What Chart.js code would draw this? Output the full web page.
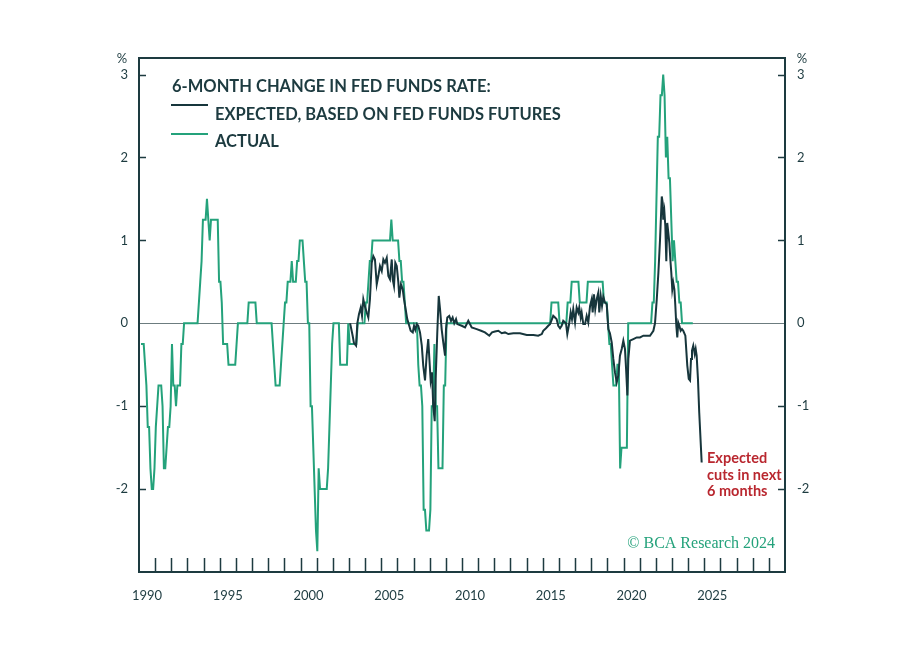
<!DOCTYPE html>
<html>
<head>
<meta charset="utf-8">
<script src="https://cdn.jsdelivr.net/npm/chart.js@4.4.1/dist/chart.umd.min.js"></script>
<style>
  html, body { margin: 0; padding: 0; background: #fff; }
  canvas { display: block; }
</style>
</head>
<body>
<canvas id="chart" width="911" height="653"></canvas>
<script>
// 6-month change in fed funds rate, monthly, starting Jan 1990
const actualStartYear = 1990
const actualByYear = [
  [-0.25, -0.25, -0.25, -0.5, -0.75, -1.25, -1.25, -1.75, -2, -2, -1.75, -1.25], // 1990
  [-1, -0.75, -0.75, -0.75, -1, -1.75, -1.75, -1.5, -1.25, -1.25, -1, -0.25],
  [-0.75, -0.75, -1, -0.75, -0.75, -0.75, -0.25, -0.25, 0, 0, 0, 0],
  [0, 0, 0, 0, 0, 0, 0, 0.25, 0.5, 0.75, 1.25, 1.25],
  [1.25, 1.5, 1.25, 1, 1.25, 1.25, 1.25, 1.25, 1.25, 1.25, 0.5, 0.5],
  [0.25, -0.25, -0.25, -0.25, -0.25, -0.5, -0.5, -0.5, -0.5, -0.5, -0.5, -0.25], // 1995
  [0, 0, 0, 0, 0, 0, 0, 0, 0.25, 0.25, 0.25, 0.25],
  [0.25, 0.25, 0, 0, 0, 0, 0, 0, 0, 0, 0, 0],
  [0, 0, -0.25, -0.5, -0.75, -0.75, -0.75, -0.75, -0.5, -0.25, 0, 0.25],
  [0.25, 0.5, 0.5, 0.5, 0.75, 0.5, 0.5, 0.5, 0.75, 0.75, 1, 1],
  [1, 0.75, 0.5, 0.5, 0, 0, -1, -1, -1.5, -2, -2.5, -2.75], // 2000
  [-1.75, -2, -2, -2, -2, -2, -2, -1.75, -1.25, -0.75, -0.25, 0],
  [0, 0, 0, 0, -0.5, -0.5, -0.5, -0.5, -0.5, -0.5, 0, -0.25],
  [-0.25, -0.25, -0.25, -0.25, -0.25, 0, 0, 0, 0, 0, 0, 0.25],
  [0.25, 0.5, 0.75, 0.75, 1, 1, 1, 1, 1, 1, 1, 1],
  [1, 1, 1, 1, 1, 1, 1.25, 1, 1, 1, 1, 1], // 2005
  [0.75, 0.75, 0.5, 0.5, 0.25, 0, 0, 0, 0, 0, 0, 0],
  [0, 0, -0.5, -0.75, -0.75, -1, -2.25, -2.25, -2.5, -2.5, -2.5, -2.25],
  [-1, -1, -0.25, -1, -1, -1.75, -1.75, -1.75, -1.75, -0.75, -0.75, 0],
  [0, 0, 0, 0, 0, 0, 0, 0, 0, 0, 0, 0],
  [0, 0, 0, 0, 0, 0, 0, 0, 0, 0, 0, 0], // 2010
  [0, 0, 0, 0, 0, 0, 0, 0, 0, 0, 0, 0],
  [0, 0, 0, 0, 0, 0, 0, 0, 0, 0, 0, 0],
  [0, 0, 0, 0, 0, 0, 0, 0, 0, 0, 0, 0],
  [0, 0, 0, 0, 0, 0, 0, 0, 0, 0, 0, 0],
  [0, 0, 0, 0, 0, 0.25, 0.25, 0.25, 0.25, 0.25, 0.25, 0], // 2015
  [0, 0, 0, 0, 0, 0.25, 0.25, 0.25, 0.5, 0.5, 0.5, 0.5],
  [0.5, 0.5, 0.25, 0.25, 0.25, 0.25, 0.25, 0.25, 0.5, 0.5, 0.5, 0.5],
  [0.5, 0.5, 0.5, 0.5, 0.5, 0.5, 0.5, 0.5, 0.25, 0.25, 0.25, 0],
  [-0.25, -0.25, -0.5, -0.75, -0.75, -0.75, -0.5, -0.5, -1.75, -1.5, -1.5, -1.5],
  [-1.5, -1.5, 0, 0, 0, 0, 0, 0, 0, 0, 0, 0], // 2020
  [0, 0, 0, 0, 0, 0, 0, 0, 0.25, 0.25, 0.75, 1.5],
  [2.25, 2.25, 2.75, 2.75, 3, 2.75, 2, 2.25, 1.75, 1.75, 1.25, 0.75],
  [1, 0.75, 0.5, 0.5, 0.25, 0.25, 0, 0, 0, 0, 0, 0],
  [0, 0, 0] // 2024
]

// expected change based on fed funds futures (decimal years)
const expectedYears = [
  2003.07, 2003.23, 2003.31, 2003.44, 2003.52, 2003.62, 2003.73, 2003.81, 2003.89, 2003.98,
  2004.10, 2004.20, 2004.30, 2004.41, 2004.51, 2004.61, 2004.72, 2004.82, 2004.92, 2005.03,
  2005.13, 2005.23, 2005.34, 2005.44, 2005.54, 2005.65, 2005.71, 2005.79, 2005.87, 2005.96,
  2006.06, 2006.12, 2006.22, 2006.33, 2006.41, 2006.51, 2006.61, 2006.72, 2006.82, 2006.95,
  2007.03, 2007.11, 2007.20, 2007.29, 2007.40, 2007.51, 2007.60, 2007.71, 2007.81, 2007.91,
  2007.98, 2008.06, 2008.14, 2008.22, 2008.31, 2008.37, 2008.47, 2008.56, 2008.64, 2008.74,
  2008.84, 2008.95, 2009.01, 2009.09, 2009.21, 2009.32, 2009.42, 2009.52, 2009.63, 2009.71,
  2009.98, 2010.19, 2010.39, 2010.60, 2010.91, 2011.18, 2011.42, 2011.69, 2011.86, 2012.04,
  2012.25, 2012.46, 2012.66, 2012.87, 2013.18, 2013.59, 2014.01, 2014.42, 2014.72, 2014.94,
  2015.03, 2015.20, 2015.34, 2015.45, 2015.65, 2015.76, 2015.86, 2015.96, 2016.07, 2016.17,
  2016.27, 2016.44, 2016.52, 2016.64, 2016.73, 2016.81, 2016.89, 2017.00, 2017.10, 2017.20,
  2017.26, 2017.35, 2017.41, 2017.51, 2017.62, 2017.72, 2017.82, 2017.93, 2018.03, 2018.09,
  2018.17, 2018.25, 2018.34, 2018.44, 2018.50, 2018.59, 2018.67, 2018.75, 2018.85, 2018.96,
  2019.06, 2019.16, 2019.27, 2019.37, 2019.47, 2019.58, 2019.68, 2019.78, 2019.89, 2019.99,
  2020.09, 2020.16, 2020.24, 2020.30, 2020.40, 2020.61, 2020.82, 2021.02, 2021.23, 2021.44,
  2021.64, 2021.85, 2021.95, 2022.06, 2022.16, 2022.26, 2022.37, 2022.43, 2022.46, 2022.53,
  2022.59, 2022.65, 2022.71, 2022.77, 2022.84, 2022.90, 2022.96, 2023.02, 2023.08, 2023.15,
  2023.21, 2023.27, 2023.33, 2023.39, 2023.46, 2023.54, 2023.62, 2023.70, 2023.83, 2023.87,
  2023.95, 2024.04, 2024.12, 2024.18, 2024.24, 2024.32, 2024.41, 2024.47, 2024.53, 2024.61,
  2024.69, 2024.78, 2024.84
]
const expectedValues = [
  0, -0.15, -0.24, -0.27, 0, 0.11, 0.19, 0.09, 0.29, 0.21,
  0.13, 0.07, 0.29, 0.73, 0.81, 0.77, 0.47, 0.57, 0.69, 0.63,
  0.77, 0.73, 0.79, 0.57, 0.53, 0.77, 0.53, 0.45, 0.73, 0.69,
  0.49, 0.31, 0.47, 0.41, 0.29, 0.17, 0.05, -0.02, -0.09, -0.11,
  -0.03, -0.08, -0.01, -0.03, -0.11, -0.27, -0.51, -0.69, -0.39, -0.19,
  -0.43, -0.69, -0.59, -1.0, -1.18, -0.67, -0.11, 0.33, 0.17, -0.07,
  -0.23, -0.39, -0.07, 0.07, 0.09, 0.03, 0.07, 0, 0.05, -0.01,
  -0.03, -0.05, 0.03, -0.05, -0.07, -0.09, -0.11, -0.15, -0.11, -0.10,
  -0.09, -0.12, -0.11, -0.13, -0.12, -0.12, -0.14, -0.14, -0.15, -0.13,
  -0.09, -0.06, -0.03, -0.01, 0.09, 0.07, 0.05, -0.03, -0.06, -0.03,
  0.03, 0, -0.13, 0, 0.13, 0.05, 0.17, 0.01, 0.19, 0.13,
  0.19, 0.07, 0.13, -0.01, -0.01, 0.09, 0.01, 0.21, 0.29, 0.13,
  0.35, 0.17, 0.29, 0.37, 0.13, 0.33, 0.21, 0.32, 0.25, 0.23,
  -0.07, -0.12, -0.23, -0.43, -0.59, -0.71, -0.63, -0.39, -0.31, -0.21,
  -0.31, -0.55, -0.87, -0.43, -0.21, -0.19, -0.17, -0.17, -0.15, -0.15,
  -0.15, -0.09, 0, 0.29, 0.61, 1.0, 1.53, 1.45, 1.25, 1.35,
  1.17, 0.75, 1.21, 1.1, 0.97, 0.77, 0.61, 0.41, 0.49, 0.41,
  0.21, -0.03, -0.17, 0.01, -0.03, -0.09, -0.07, -0.09, -0.15, -0.27,
  -0.51, -0.67, -0.69, -0.43, -0.33, -0.27, -0.37, -0.31, -0.39, -0.67,
  -1.08, -1.44, -1.68
]

const xLabelYears = [1990, 1995, 2000, 2005, 2010, 2015, 2020, 2025]
const yTickValues = [-2, -1, 0, 1, 2, 3]

const legendTitle = '6-MONTH CHANGE IN FED FUNDS RATE:'
const legendExpected = 'EXPECTED, BASED ON FED FUNDS FUTURES'
const legendActual = 'ACTUAL'
const noteLines = ['Expected', 'cuts in next', '6 months']
const sourceText = '\u00A9 BCA Research 2024'

const colors = {
  expected: '#17363c',
  actual: '#24a27b',
  frame: '#1d3b40',
  text: '#1d3b40',
  zero: '#6c7c7f',
  note: '#b9272f'
}

// monthly actual points sit a month and a half into their month
const actualPoints = []
actualByYear.forEach((row, yi) => {
  row.forEach((v, m) => {
    actualPoints.push({ x: actualStartYear + yi + (m + 1.5) / 12, y: v })
  })
})
const expectedPoints = expectedYears.map((yr, i) => ({ x: yr, y: expectedValues[i] }))

const framePlugin = {
  id: 'frame',
  afterDatasetsDraw (chart) {
    const { ctx, chartArea } = chart
    const { left, right, top, bottom } = chartArea
    const xs = chart.scales.x
    const ys = chart.scales.y
    ctx.save()
    ctx.strokeStyle = colors.frame
    ctx.lineWidth = 1.5
    ctx.beginPath()
    // year tick marks, pointing up into the plot
    for (let yr = 1991; yr < 2030; yr++) {
      const px = Math.round(xs.getPixelForValue(yr)) + 0.5
      ctx.moveTo(px, bottom)
      ctx.lineTo(px, bottom - 14)
    }
    yTickValues.forEach(v => {
      if (v === 0) return
      const py = Math.round(ys.getPixelForValue(v)) + 0.5
      ctx.moveTo(left, py)
      ctx.lineTo(left + 7, py)
      ctx.moveTo(right - 7, py)
      ctx.lineTo(right, py)
    })
    ctx.stroke()
    ctx.lineWidth = 2
    ctx.strokeRect(left, top, right - left, bottom - top)
    ctx.restore()
  },
  afterDraw (chart) {
    const { ctx } = chart
    ctx.save()
    ctx.textBaseline = 'alphabetic'

    // percent units over both axes
    ctx.fillStyle = colors.text
    ctx.font = '13px Lato'
    ctx.textAlign = 'center'
    ctx.fillText('%', 122, 63)
    ctx.fillText('%', 802, 63)

    // legend
    ctx.textAlign = 'left'
    ctx.font = 'bold 16.5px Lato'
    ctx.fillText(legendTitle, 172, 92)
    ctx.fillText(legendExpected, 215, 120)
    ctx.fillText(legendActual, 215, 147)
    ctx.lineWidth = 2
    ctx.strokeStyle = colors.expected
    ctx.beginPath()
    ctx.moveTo(171, 105)
    ctx.lineTo(208, 105)
    ctx.stroke()
    ctx.strokeStyle = colors.actual
    ctx.beginPath()
    ctx.moveTo(171, 134)
    ctx.lineTo(208, 134)
    ctx.stroke()

    // annotation
    ctx.fillStyle = colors.note
    ctx.font = 'bold 14.5px Lato'
    noteLines.forEach((line, i) => ctx.fillText(line, 707, 463 + i * 16.5))

    // source
    ctx.fillStyle = colors.actual
    ctx.font = '16px "Liberation Serif"'
    ctx.textAlign = 'right'
    ctx.fillText(sourceText, 775, 548)
    ctx.restore()
  }
}

const tickFont = { family: 'Lato', size: 13 }

new Chart(document.getElementById('chart'), {
  type: 'line',
  data: {
    datasets: [
      {
        label: legendExpected,
        data: expectedPoints,
        borderColor: colors.expected,
        borderWidth: 2,
        pointRadius: 0,
        tension: 0
      },
      {
        label: legendActual,
        data: actualPoints,
        borderColor: colors.actual,
        borderWidth: 2,
        pointRadius: 0,
        tension: 0
      }
    ]
  },
  options: {
    responsive: false,
    animation: false,
    devicePixelRatio: 1,
    layout: { padding: { top: 58, left: 0, right: 0, bottom: 0 } },
    plugins: {
      legend: { display: false },
      tooltip: { enabled: false }
    },
    scales: {
      x: {
        type: 'linear',
        min: 1990,
        max: 2030,
        grid: { display: false, drawTicks: false },
        border: { display: false },
        afterBuildTicks: (scale) => {
          scale.ticks = xLabelYears.map(yr => ({ value: yr + 0.5 }))
        },
        afterFit: (scale) => { scale.height = 81 },
        ticks: {
          autoSkip: false,
          maxRotation: 0,
          padding: 16,
          color: colors.text,
          font: tickFont,
          callback: (value) => String(Math.floor(value))
        }
      },
      y: {
        position: 'left',
        min: -3,
        max: 3.2,
        afterBuildTicks: (scale) => {
          scale.ticks = yTickValues.map(v => ({ value: v }))
        },
        afterFit: (scale) => { scale.width = 139 },
        grid: {
          drawTicks: false,
          lineWidth: 1,
          color: (c) => (c.tick && c.tick.value === 0 ? colors.zero : 'rgba(0,0,0,0)')
        },
        border: { display: false },
        ticks: { padding: 11, color: colors.text, font: tickFont }
      },
      y2: {
        position: 'right',
        min: -3,
        max: 3.2,
        afterBuildTicks: (scale) => {
          scale.ticks = yTickValues.map(v => ({ value: v }))
        },
        afterFit: (scale) => { scale.width = 126 },
        grid: { display: false, drawTicks: false },
        border: { display: false },
        ticks: { padding: 12, color: colors.text, font: tickFont }
      }
    }
  },
  plugins: [framePlugin]
})
</script>
</body>
</html>
